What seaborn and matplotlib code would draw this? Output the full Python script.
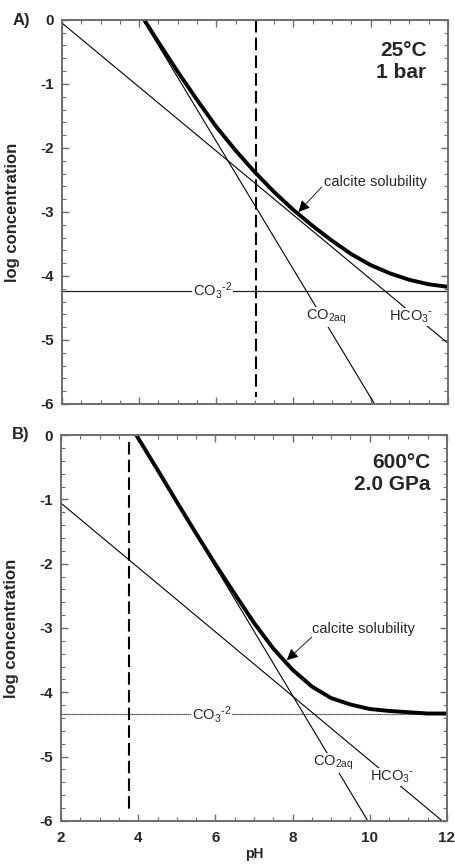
import matplotlib
matplotlib.use("Agg")
import matplotlib.pyplot as plt
import seaborn as sns
from matplotlib.ticker import MultipleLocator

# ---- Panel A: 25 C, 1 bar ----
a_co2_ph = [4.1, 10.1]
a_co2_log = [0.0, -6.0]
a_hco3_ph = [2.0, 12.0]
a_hco3_log = [-0.05, -5.05]
a_co3_ph = [2.0, 12.0]
a_co3_log = [-4.23, -4.23]
a_calc_ph = [4.13, 4.5, 5.0, 5.5, 6.0, 6.5, 7.0, 7.5, 8.0, 8.5, 9.0, 9.5, 10.0, 10.5, 11.0, 11.5, 12.0]
a_calc_log = [0.0, -0.35, -0.81, -1.25, -1.67, -2.04, -2.38, -2.69, -2.97, -3.22, -3.45,
              -3.66, -3.83, -3.96, -4.06, -4.13, -4.17]
a_dash_ph = [7.04, 7.04]
a_dash_log = [0.0, -5.89]

# ---- Panel B: 600 C, 2.0 GPa ----
b_co2_ph = [3.95, 9.95]
b_co2_log = [0.0, -6.0]
b_hco3_ph = [2.0, 12.0]
b_hco3_log = [-1.06, -6.06]
b_co3_ph = [2.0, 12.0]
b_co3_log = [-4.34, -4.34]
b_calc_ph = [3.95, 4.0, 4.5, 5.0, 5.5, 6.0, 6.5, 7.0, 7.5, 8.0, 8.5, 9.0, 9.5, 10.0, 10.5, 11.0, 11.5, 12.0]
b_calc_log = [0.0, -0.05, -0.54, -1.04, -1.53, -2.01, -2.47, -2.92, -3.32, -3.65, -3.91,
              -4.09, -4.19, -4.26, -4.29, -4.31, -4.33, -4.33]
b_dash_ph = [3.76, 3.76]
b_dash_log = [-0.11, -5.88]

x_ticks = [2, 4, 6, 8, 10, 12]
y_ticks = [0, -1, -2, -3, -4, -5, -6]

sns.set_theme(style="ticks")
plt.rcParams["font.family"] = ["Liberation Sans", "DejaVu Sans"]
plt.rcParams["mathtext.default"] = "regular"

spine_c = "#6e6e6e"
lab_fs = 10.5

fig = plt.figure(figsize=(4.56, 8.65), dpi=100)
axA = fig.add_axes([0.136, 0.533, 0.846, 0.444])
axB = fig.add_axes([0.134, 0.051, 0.846, 0.446])


def draw_panel(ax, co2, hco3, co3, calc, dash, co3_style):
    sns.lineplot(x=co2[0], y=co2[1], ax=ax, color="black", lw=0.8, estimator=None, sort=False)
    sns.lineplot(x=hco3[0], y=hco3[1], ax=ax, color="black", lw=0.8, estimator=None, sort=False)
    sns.lineplot(x=co3[0], y=co3[1], ax=ax, color="#222222", lw=0.9, ls=co3_style,
                 estimator=None, sort=False)
    sns.lineplot(x=calc[0], y=calc[1], ax=ax, color="black", lw=2.8, estimator=None, sort=False)
    sns.lineplot(x=dash[0], y=dash[1], ax=ax, color="black", lw=1.5, ls=(0, (6, 2.5)),
                 estimator=None, sort=False)
    ax.set_xlim(2, 12)
    ax.set_ylim(-6, 0)
    ax.xaxis.set_major_locator(MultipleLocator(2))
    ax.xaxis.set_minor_locator(MultipleLocator(0.5))
    ax.yaxis.set_minor_locator(MultipleLocator(0.2))
    ax.set_yticks(y_ticks)
    ax.set_yticklabels([str(v) for v in y_ticks])
    ax.tick_params(which="both", direction="in", top=True, right=True, color=spine_c)
    ax.tick_params(which="major", length=5, width=1.0, labelsize=11, pad=6)
    ax.tick_params(which="minor", length=3, width=0.8)
    for lab in ax.get_yticklabels():
        lab.set_fontweight("bold")
    for s in ax.spines.values():
        s.set_color(spine_c)
        s.set_linewidth(1.4)
    ax.set_ylabel("log concentration", fontsize=12, fontweight="bold")
    ax.yaxis.set_label_coords(-0.108, 0.5)


box = dict(facecolor="white", edgecolor="none", pad=0.5)
co3_txt = r"CO$_3$$^{\text{-}2}$"
co2_txt = r"CO$_{2aq}$"
hco3_txt = r"HCO$_3$$^{\text{-}}$"
arrow = dict(arrowstyle="-|>", color="black", lw=0.6, mutation_scale=17, shrinkA=0, shrinkB=0)

# panel A
draw_panel(axA, (a_co2_ph, a_co2_log), (a_hco3_ph, a_hco3_log), (a_co3_ph, a_co3_log),
           (a_calc_ph, a_calc_log), (a_dash_ph, a_dash_log), "-")
axA.set_xticklabels([])
axA.set_xlabel("")
axA.text(5.9, -4.23, co3_txt, fontsize=lab_fs, ha="center", va="center", bbox=box, zorder=5)
axA.text(8.86, -4.64, co2_txt, fontsize=lab_fs, ha="center", va="center", bbox=box, zorder=5)
axA.text(11.06, -4.64, hco3_txt, fontsize=lab_fs, ha="center", va="center", bbox=box, zorder=5)
axA.text(8.78, -2.53, "calcite solubility", fontsize=lab_fs, ha="left", va="center")
axA.annotate("", xy=(8.13, -3.0), xytext=(8.73, -2.61), arrowprops=arrow)
axA.text(0.945, 0.945, "25°C\n1 bar", transform=axA.transAxes, fontsize=15,
         fontweight="bold", ha="right", va="top", linespacing=1.2, multialignment="right")

# panel B
draw_panel(axB, (b_co2_ph, b_co2_log), (b_hco3_ph, b_hco3_log), (b_co3_ph, b_co3_log),
           (b_calc_ph, b_calc_log), (b_dash_ph, b_dash_log), (0, (1, 0.6)))
axB.set_xticks(x_ticks)
axB.set_xticklabels([str(v) for v in x_ticks])
for lab in axB.get_xticklabels():
    lab.set_fontweight("bold")
axB.tick_params(axis="x", which="major", pad=7)
axB.set_xlabel("pH", fontsize=10, fontweight="bold", labelpad=2)
axB.text(5.9, -4.34, co3_txt, fontsize=lab_fs, ha="center", va="center", bbox=box, zorder=5)
axB.text(9.05, -5.1, co2_txt, fontsize=lab_fs, ha="center", va="center", bbox=box, zorder=5)
axB.text(10.57, -5.32, hco3_txt, fontsize=lab_fs, ha="center", va="center", bbox=box, zorder=5)
axB.text(8.5, -3.02, "calcite solubility", fontsize=lab_fs, ha="left", va="center")
axB.annotate("", xy=(7.85, -3.5), xytext=(8.5, -3.14), arrowprops=arrow)
axB.text(0.958, 0.953, "600°C\n2.0 GPa", transform=axB.transAxes, fontsize=15,
         fontweight="bold", ha="right", va="top", linespacing=1.2, multialignment="right")

fig.text(30 / 456, 1 - 20 / 865, "A)", fontsize=12, fontweight="bold", ha="right", va="center")
fig.text(30 / 456, 1 - 435 / 865, "B)", fontsize=12, fontweight="bold", ha="right", va="center")

fig.savefig("out.png", dpi=100)
